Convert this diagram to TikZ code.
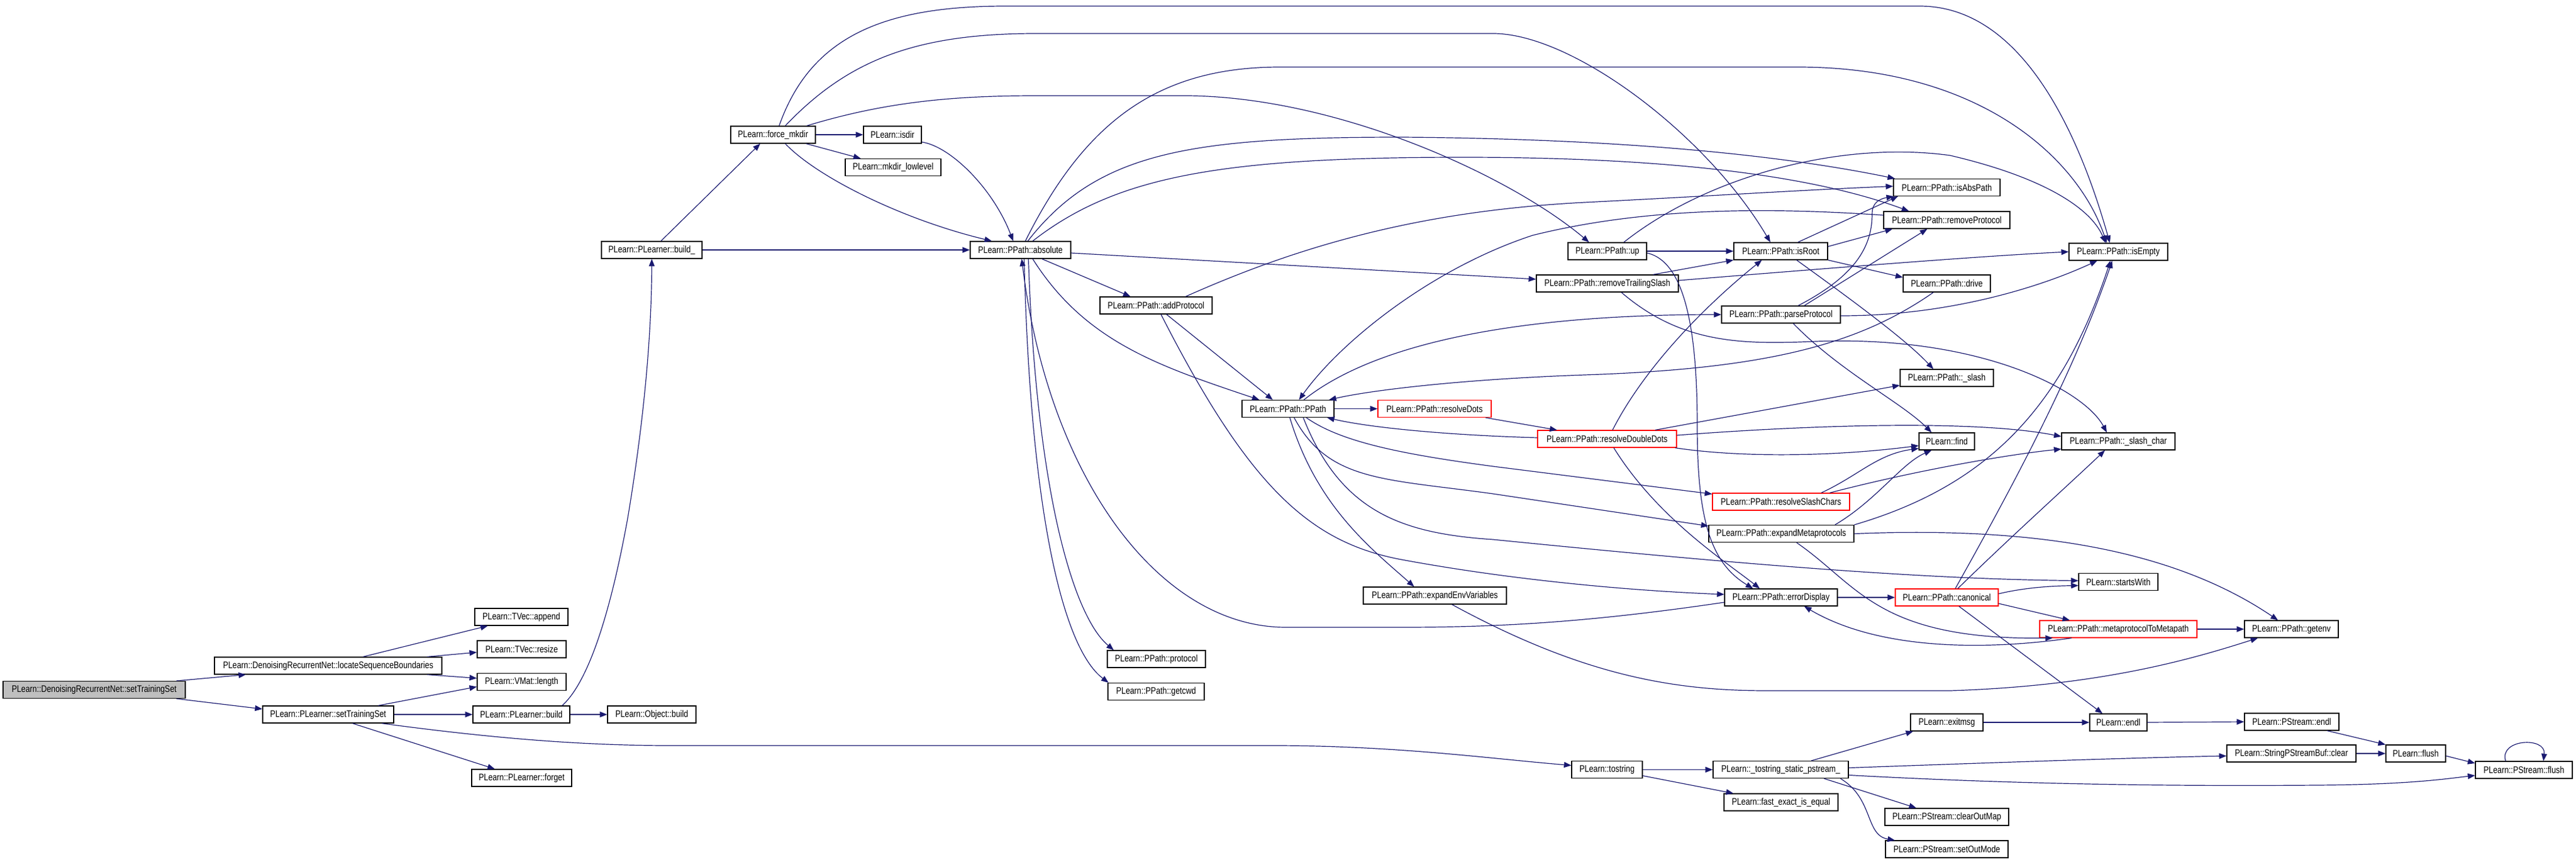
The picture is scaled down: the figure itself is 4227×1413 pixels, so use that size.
\documentclass[tikz,border=0pt]{standalone}
\usepackage{fontspec}
\setmainfont[FakeStretch=0.82]{Liberation Sans}
\usetikzlibrary{arrows.meta,calc}
\definecolor{edgec}{HTML}{191970}
\definecolor{rootfill}{HTML}{BFBFBF}
\tikzset{
 fbox/.style={draw=black, line width=0.6pt, fill=white, minimum height=14pt, inner sep=0pt, font=\fontsize{7.8pt}{9pt}\selectfont},
 redbox/.style={draw=red},
 ed/.style={draw=edgec, line width=0.6pt, -{Triangle[length=6pt,width=4.6pt]}},
}
\newcommand\nd[6][]{\node[fbox,#1,minimum width=#5pt] (#2) at (#3,#4) {#6};}
\begin{document}
\begin{tikzpicture}[x=0.5pt,y=-0.5pt]
\useasboundingbox (0,0) rectangle (4227,1413);
% nodes
\nd[fill=rootfill]{root}{154.5}{1131.5}{149.5}{PLearn::DenoisingRecurrentNet::setTrainingSet}
\nd{locate}{538.5}{1092}{186.5}{PLearn::DenoisingRecurrentNet::locateSequenceBoundaries}
\nd{setTS}{538.5}{1172}{107.5}{PLearn::PLearner::setTrainingSet}
\nd{append}{855.5}{1012}{76.5}{PLearn::TVec::append}
\nd{resize}{856}{1065}{73}{PLearn::TVec::resize}
\nd{length}{856}{1118.5}{73}{PLearn::VMat::length}
\nd{build}{855.5}{1172}{79.5}{PLearn::PLearner::build}
\nd{forget}{856}{1276}{82}{PLearn::PLearner::forget}
\nd{objbuild}{1069.5}{1172}{72.5}{PLearn::Object::build}
\nd{buildu}{1069.5}{410}{82.5}{PLearn::PLearner::build\_}
\nd{fmkdir}{1268.5}{221}{69.5}{PLearn::force\_mkdir}
\nd{isdir}{1464.5}{221}{47.5}{PLearn::isdir}
\nd{mkdirll}{1465.5}{274.5}{78.5}{PLearn::mkdir\_lowlevel}
\nd{absolute}{1674.5}{410}{82.5}{PLearn::PPath::absolute}
\nd{addprot}{1897}{501}{92}{PLearn::PPath::addProtocol}
\nd{protocol}{1897.5}{1081}{80.5}{PLearn::PPath::protocol}
\nd{getcwd}{1897}{1134.5}{79}{PLearn::PPath::getcwd}
\nd{ppath}{2113.5}{670.5}{75.5}{PLearn::PPath::PPath}
\nd[redbox]{rdots}{2354}{670.5}{93}{PLearn::PPath::resolveDots}
\nd{envvar}{2354.5}{977}{117.5}{PLearn::PPath::expandEnvVariables}
\nd{up}{2637.5}{412}{64.5}{PLearn::PPath::up}
\nd{rts}{2637.5}{465}{116.5}{PLearn::PPath::removeTrailingSlash}
\nd[redbox]{rdd}{2637}{720}{114}{PLearn::PPath::resolveDoubleDots}
\nd{tostring}{2637}{1262.5}{58}{PLearn::tostring}
\nd{isroot}{2922}{412}{77}{PLearn::PPath::isRoot}
\nd{parsep}{2922.5}{516}{97.5}{PLearn::PPath::parseProtocol}
\nd[redbox]{rsc}{2922.5}{823}{112.5}{PLearn::PPath::resolveSlashChars}
\nd{emp}{2923}{875.5}{119}{PLearn::PPath::expandMetaprotocols}
\nd{errd}{2922.5}{980}{92.5}{PLearn::PPath::errorDisplay}
\nd{tsp}{2922}{1262.5}{111}{PLearn::\_tostring\_static\_pstream\_}
\nd{fast}{2922.5}{1316}{93.5}{PLearn::fast\_exact\_is\_equal}
\nd{isabs}{3194.5}{307.5}{87.5}{PLearn::PPath::isAbsPath}
\nd{remprot}{3194.5}{361}{103.5}{PLearn::PPath::removeProtocol}
\nd{drive}{3194.5}{465}{71.5}{PLearn::PPath::drive}
\nd{slash}{3194.5}{620}{76.5}{PLearn::PPath::\_slash}
\nd{find}{3194.5}{724}{45.5}{PLearn::find}
\nd[redbox]{canon}{3194.5}{980}{84.5}{PLearn::PPath::canonical}
\nd{exitmsg}{3194.5}{1185}{59.5}{PLearn::exitmsg}
\nd{clearom}{3194.5}{1340}{101.5}{PLearn::PStream::clearOutMap}
\nd{setom}{3194.5}{1393}{100.5}{PLearn::PStream::setOutMode}
\nd{isempty}{3476}{413}{81}{PLearn::PPath::isEmpty}
\nd{slashc}{3476}{724}{93}{PLearn::PPath::\_slash\_char}
\nd{startsw}{3476}{954.5}{65}{PLearn::startsWith}
\nd[redbox]{mtm}{3476}{1032}{129}{PLearn::PPath::metaprotocolToMetapath}
\nd{endl}{3476}{1185}{47}{PLearn::endl}
\nd{spclear}{3760}{1236}{106}{PLearn::StringPStreamBuf::clear}
\nd{getenv}{3760}{1032}{77}{PLearn::PPath::getenv}
\nd{psendl}{3760.5}{1184}{77.5}{PLearn::PStream::endl}
\nd{flush}{3964}{1236}{49}{PLearn::flush}
\nd{psflush}{4141.5}{1263}{79.5}{PLearn::PStream::flush}
% edges
\draw[ed] ($(root.north)+(135,0)$) -- ($(locate.south)+(-135,0)$);
\draw[ed] ($(root.south)+(135,0)$) -- ($(setTS.west)+(0,-9)$);
\draw[ed] ($(locate.north)+(57,0)$) -- ($(append.south)+(-55,0)$);
\draw[ed] ($(locate.north east)+(-25,0)$) -- ($(resize.west)+(0,5)$);
\draw[ed] ($(locate.south east)+(-25,0)$) -- ($(length.west)+(0,-6)$);
\draw[ed] ($(setTS.north east)+(-26,0)$) -- ($(length.west)+(0,8)$);
\draw[ed] (setTS.east) -- (build.west);
\draw[ed] ($(setTS.south)+(40,0)$) -- ($(forget.north)+(-44,0)$);
\draw[ed] ($(setTS.south east)+(-20,0)$) .. controls (800,1210) and (950,1223) .. (1100,1223) -- (2100,1223) .. controls (2300,1224) and (2450,1245) .. ($(tostring.west)+(0,-7)$);
\draw[ed] (build.east) -- (objbuild.west);
\draw[ed] ($(build.north)+(67,0)$) .. controls (975,1110) and (1010,960) .. (1030,850) .. controls (1055,700) and (1069,560) .. (buildu.south);
\draw[ed] ($(buildu.north)+(15,0)$) -- ($(fmkdir.south)+(-21,0)$);
\draw[ed] (buildu.east) -- (absolute.west);
\draw[ed] (fmkdir.east) -- (isdir.west);
\draw[ed] ($(fmkdir.south east)+(-16,0)$) -- ($(mkdirll.north west)+(26,0)$);
\draw[ed] ($(fmkdir.south)+(20,0)$) .. controls (1340,290) and (1480,360) .. ($(absolute.north)+(-47,0)$);
\draw[ed] ($(isdir.east)+(0,12)$) .. controls (1560,240) and (1630,310) .. ($(absolute.north)+(-12,0)$);
\draw[ed] ($(fmkdir.north east)+(-15,0)$) .. controls (1450,168) and (1560,157) .. (1700,157) -- (1950,157) .. controls (2200,160) and (2480,290) .. ($(up.north)+(-30,0)$);
\draw[ed] ($(fmkdir.north)+(10,0)$) .. controls (1330,60) and (1450,10) .. (1650,10) -- (3150,10) .. controls (3330,10) and (3420,250) .. ($(isempty.north)+(-14,0)$);
\draw[ed] ($(fmkdir.north)+(20,0)$) .. controls (1390,100) and (1500,55) .. (1700,55) -- (2450,55) .. controls (2580,55) and (2800,220) .. ($(isroot.north)+(-17,0)$);
\draw[ed] ($(absolute.north)+(8,0)$) .. controls (1780,200) and (1900,110) .. (2100,110) -- (2950,110) .. controls (3250,110) and (3410,260) .. ($(isempty.north)+(-19,0)$);
\draw[ed] ($(absolute.north)+(12,0)$) .. controls (1800,250) and (1950,225) .. (2300,225) .. controls (2700,228) and (2950,260) .. ($(isabs.north west)+(3,0)$);
\draw[ed] ($(absolute.north)+(20,0)$) .. controls (1830,290) and (2000,258) .. (2400,258) .. controls (2750,258) and (2980,290) .. ($(remprot.north)+(-62,0)$);
\draw[ed] ($(absolute.south)+(35,0)$) -- ($(addprot.north)+(-42,0)$);
\draw[ed] ($(absolute.south)+(20,0)$) .. controls (1780,560) and (1900,600) .. ($(ppath.north)+(-47,0)$);
\draw[ed] ($(absolute.east)+(0,5)$) -- ($(rts.west)+(0,-7)$);
\draw[ed] ($(absolute.south)+(13,0)$) .. controls (1700,800) and (1760,1010) .. ($(protocol.north)+(-70,0)$);
\draw[ed] ($(absolute.south)+(6,0)$) .. controls (1690,820) and (1740,1060) .. ($(getcwd.north)+(-78,0)$);
\draw[ed] ($(errd.west)+(0,8)$) .. controls (2600,1022) and (2450,1029) .. (2300,1029) -- (2110,1029) .. controls (1900,1029) and (1720,780) .. ($(absolute.south)+(2,0)$);
\draw[ed] ($(addprot.south)+(17,0)$) -- ($(ppath.north)+(-25,0)$);
\draw[ed] ($(addprot.north east)+(-44,0)$) .. controls (2150,395) and (2350,345) .. (2600,332) .. controls (2800,322) and (2950,312) .. ($(isabs.west)+(0,-2)$);
\draw[ed] ($(addprot.south)+(8,0)$) .. controls (2050,800) and (2150,890) .. (2300,918) .. controls (2500,955) and (2700,970) .. ($(errd.west)+(0,-5)$);
\draw[ed] (ppath.east) -- (rdots.west);
\draw[ed] ($(ppath.south)+(3,0)$) .. controls (2160,830) and (2250,900) .. ($(envvar.north)+(-34,0)$);
\draw[ed] ($(ppath.south)+(30,0)$) .. controls (2200,725) and (2300,745) .. (2450,765) -- ($(rsc.north west)+(0,2)$);
\draw[ed] ($(ppath.south)+(10,0)$) .. controls (2180,790) and (2270,785) .. (2450,810) -- ($(emp.north west)+(0,2)$);
\draw[ed] ($(ppath.south)+(25,0)$) .. controls (2200,840) and (2300,875) .. (2450,885) .. controls (2850,925) and (3150,950) .. ($(startsw.west)+(0,-2)$);
\draw[ed] ($(ppath.north)+(26,0)$) .. controls (2260,560) and (2500,516) .. (parsep.west);
\draw[ed] ($(remprot.west)+(0,-8)$) .. controls (2900,340) and (2700,340) .. (2515,386) .. controls (2350,440) and (2200,560) .. ($(ppath.north)+(18,0)$);
\draw[ed] ($(drive.south)+(-22,0)$) .. controls (3050,565) and (2900,605) .. (2600,615) .. controls (2400,622) and (2250,640) .. ($(ppath.north east)+(-9,0)$);
\draw[ed] ($(rdd.west)+(0,-2)$) .. controls (2380,714) and (2250,702) .. ($(ppath.south east)+(-12,0)$);
\draw[ed] ($(rdots.south east)+(-10,0)$) -- ($(rdd.north)+(-82,0)$);
\draw[ed] (up.east) -- (isroot.west);
\draw[ed] ($(up.north)+(27,0)$) .. controls (2800,290) and (3020,230) .. (3200,255) .. controls (3350,290) and (3430,340) .. ($(isempty.north)+(-21,0)$);
\draw[ed] ($(up.east)+(0,3)$) .. controls (2770,430) and (2785,560) .. (2785,700) .. controls (2785,860) and (2810,925) .. ($(errd.north)+(-46,0)$);
\draw[ed] ($(rts.north)+(75,0)$) -- (isroot.south west);
\draw[ed] ($(rts.east)+(0,-5)$) .. controls (3000,440) and (3250,420) .. (isempty.west);
\draw[ed] ($(rts.south)+(23,0)$) .. controls (2760,565) and (2860,565) .. (2980,560) .. controls (3250,550) and (3420,640) .. ($(slashc.north)+(-19,0)$);
\draw[ed] ($(isroot.north)+(28,0)$) -- ($(isabs.south west)+(8,0)$);
\draw[ed] ($(isroot.north east)+(0,7)$) -- ($(remprot.south west)+(15,0)$);
\draw[ed] (isroot.south east) -- ($(drive.west)+(0,-10)$);
\draw[ed] ($(isroot.south)+(26,0)$) .. controls (3050,500) and (3130,560) .. ($(slash.north)+(-22,0)$);
\draw[ed] ($(parsep.north)+(28,0)$) .. controls (3050,450) and (3072,400) .. (3072,350) .. controls (3072,332) and (3085,326) .. ($(isabs.south west)+(1,0)$);
\draw[ed] ($(parsep.north)+(38,0)$) -- ($(remprot.south)+(-32,0)$);
\draw[ed] ($(parsep.east)+(0,2)$) .. controls (3200,518) and (3350,470) .. ($(isempty.south west)+(47,0)$);
\draw[ed] ($(parsep.south)+(20,0)$) .. controls (3020,610) and (3120,660) .. ($(find.north)+(-25,0)$);
\draw[ed] ($(rdd.north)+(9,0)$) .. controls (2700,600) and (2800,500) .. ($(isroot.south)+(-31,0)$);
\draw[ed] ($(rdd.north)+(79,0)$) -- ($(slash.west)+(0,12)$);
\draw[ed] ($(rdd.east)+(0,-6)$) .. controls (3000,695) and (3250,690) .. ($(slashc.west)+(0,-8)$);
\draw[ed] ($(rdd.south east)+(-3,0)$) .. controls (2850,750) and (3000,750) .. ($(find.west)+(0,7)$);
\draw[ed] ($(rdd.south)+(11,0)$) .. controls (2720,850) and (2830,920) .. ($(errd.north)+(-35,0)$);
\draw[ed] ($(rsc.north)+(66,0)$) .. controls (3050,780) and (3080,745) .. ($(find.south west)+(0,-3)$);
\draw[ed] ($(rsc.north)+(80,0)$) .. controls (3150,770) and (3300,745) .. ($(slashc.south west)+(0,-2)$);
\draw[ed] ($(emp.north)+(88,0)$) .. controls (3080,820) and (3120,760) .. ($(find.south)+(-25,0)$);
\draw[ed] (emp.north east) .. controls (3250,800) and (3380,680) .. ($(isempty.south)+(-13,0)$);
\draw[ed] (emp.east) .. controls (3300,865) and (3550,890) .. ($(getenv.north)+(-22,0)$);
\draw[ed] ($(emp.south)+(25,0)$) .. controls (3050,960) and (3080,1050) .. ($(mtm.south west)+(22,0)$);
\draw[ed] (errd.east) -- (canon.west);
\draw[ed] ($(canon.north)+(14,0)$) .. controls (3290,820) and (3400,620) .. ($(isempty.south)+(-10,0)$);
\draw[ed] ($(canon.north)+(18,0)$) .. controls (3300,880) and (3400,790) .. ($(slashc.south)+(-22,0)$);
\draw[ed] ($(canon.east)+(0,-6)$) .. controls (3330,962) and (3380,961) .. ($(startsw.west)+(0,6)$);
\draw[ed] ($(canon.east)+(0,10)$) -- ($(mtm.north west)+(50,0)$);
\draw[ed] ($(canon.south)+(20,0)$) -- ($(endl.north)+(-26,0)$);
\draw[ed] ($(mtm.south west)+(53,0)$) .. controls (3250,1068) and (3080,1065) .. ($(errd.south)+(38,0)$);
\draw[ed] (mtm.east) -- (getenv.west);
\draw[ed] ($(envvar.south)+(28,0)$) .. controls (2600,1110) and (2750,1133) .. (2900,1133) -- (3200,1133) .. controls (3450,1125) and (3600,1080) .. ($(getenv.south)+(-55,0)$);
\draw[ed] (tostring.east) -- (tsp.west);
\draw[ed] ($(tostring.east)+(0,10)$) -- ($(fast.north west)+(16,0)$);
\draw[ed] ($(tsp.north)+(50,0)$) -- ($(exitmsg.south west)+(5,0)$);
\draw[ed] ($(tsp.east)+(0,-3)$) .. controls (3300,1250) and (3500,1243) .. ($(spclear.west)+(0,4)$);
\draw[ed] ($(tsp.east)+(0,9)$) .. controls (3300,1286) and (3550,1290) .. (3800,1288) .. controls (3950,1287) and (4010,1278) .. ($(psflush.west)+(0,9)$);
\draw[ed] ($(tsp.south)+(71,0)$) -- ($(clearom.north)+(-50,0)$);
\draw[ed] ($(tsp.south)+(98,0)$) .. controls (3075,1310) and (3060,1370) .. ($(setom.north west)+(16,0)$);
\draw[ed] (exitmsg.east) -- (endl.west);
\draw[ed] (endl.east) -- (psendl.west);
\draw[ed] ($(psendl.south)+(58,0)$) -- (flush.north west);
\draw[ed] (spclear.east) -- (flush.west);
\draw[ed] ($(flush.east)+(0,4)$) -- ($(psflush.west)+(0,-11)$);
\draw[ed] ($(psflush.north)+(-30,0)$) .. controls (4100,1212) and (4178,1208) .. ($(psflush.north)+(32,0)$);
\end{tikzpicture}
\end{document}
